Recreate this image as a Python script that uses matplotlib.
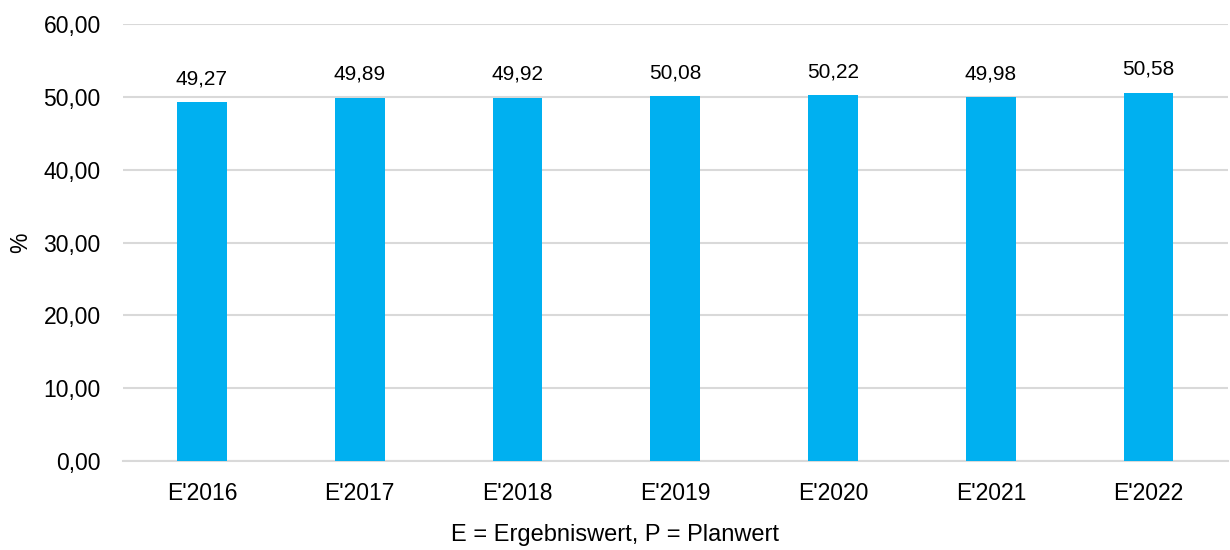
import matplotlib.pyplot as plt

plt.rcParams['font.family'] = ['Liberation Sans', 'DejaVu Sans']

categories = ["E'2016", "E'2017", "E'2018", "E'2019", "E'2020", "E'2021", "E'2022"]
values = [49.27, 49.89, 49.92, 50.08, 50.22, 49.98, 50.58]
yticks = [0, 10, 20, 30, 40, 50, 60]

fig = plt.figure(figsize=(12.3, 5.5), dpi=100)
ax = fig.add_axes([0.1, 0.162, 0.898, 0.794])

x = range(len(categories))
bars = ax.bar(x, values, width=0.315, color='#00B0F0', zorder=3)

for xi, v in zip(x, values):
    ax.text(xi, v + 1.9, f"{v:.2f}".replace('.', ','), ha='center', va='bottom', fontsize=15)

ax.set_xlim(-0.5, len(categories) - 0.5)
ax.set_ylim(0, 60)
ax.set_yticks(yticks)
ax.set_yticklabels([f"{t:.2f}".replace('.', ',') for t in yticks], fontsize=16.5)
ax.set_xticks(list(x))
ax.set_xticklabels(categories, fontsize=16.5)
ax.tick_params(axis='x', length=0, pad=15)
ax.tick_params(axis='y', length=0, pad=16)

ax.grid(axis='y', color='#D9D9D9', linewidth=1.5, zorder=0)
for s in ['top', 'right', 'left']:
    ax.spines[s].set_visible(False)
ax.spines['bottom'].set_color('#D9D9D9')
ax.spines['bottom'].set_linewidth(1.5)

# x label is centred on the figure, not on the plot area
ax.set_xlabel("E = Ergebniswert, P = Planwert", fontsize=17, labelpad=14)
ax.xaxis.label.set_x((0.5 - 0.1) / 0.898)
ax.set_ylabel("%", fontsize=16.5, labelpad=8)

fig.savefig('out.png', dpi=100)
